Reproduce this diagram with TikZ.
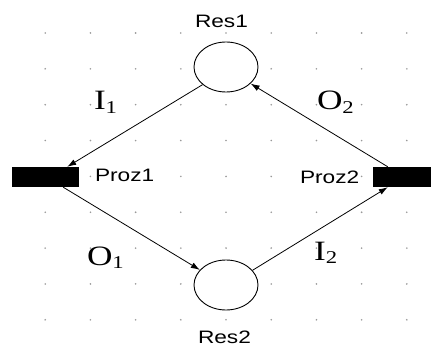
\documentclass[tikz,border=0pt]{standalone}
\usepackage{fontspec}
\setmainfont{Liberation Serif}
\newfontfamily\sansf{Liberation Sans}
\usetikzlibrary{shapes.geometric,arrows.meta}
\newcommand\sanslbl[1]{\scalebox{1.26}[1]{\sansf\fontsize{18}{20}\selectfont #1}}
\newcommand\arclbl[2]{\scalebox{1.26}[1]{\fontsize{28}{30}\selectfont #1\raisebox{-3.5pt}{\fontsize{18}{20}\selectfont #2}}}
\tikzset{
  place/.style={shape=ellipse, draw, fill=white, line width=0.9pt, minimum width=64pt, minimum height=50pt, inner sep=0pt},
  trans/.style={shape=rectangle, fill=black, inner sep=0pt, minimum height=20pt},
  txt/.style={anchor=base west, inner sep=0pt, outer sep=0pt},
  arc/.style={line width=0.8pt, -{Latex[length=9pt,width=6pt]}},
  dot/.style={fill=black!40}
}
\begin{document}
\begin{tikzpicture}[x=1pt,y=-1pt]
\useasboundingbox (0,0) rectangle (431,350);
\fill[white] (0,0) rectangle (431,350);
\foreach \i in {1,...,9}{
  \foreach \j in {0,...,8}{
    \fill[dot] ({45.2*\i},{33+35.85*\j}) circle (0.9);
  }
}
\node[place] (res1) at (226,67) {};
\node[place] (res2) at (226,285) {};
\node[trans, minimum width=67pt] (p1) at (45.5,177) {};
\node[trans, minimum width=62pt] (p2) at (404,177) {};
\node[txt] (lres1) at (195,28) {\sanslbl{Res1}};
\node[txt] (lres2) at (198,343) {\sanslbl{Res2}};
\node[txt] (lp1) at (95,182) {\sanslbl{Proz1}};
\node[txt] (lp2) at (300,183) {\sanslbl{Proz2}};
\node[txt] (li1) at (94,110) {\arclbl{I}{1}};
\node[txt] (lo2) at (317,110) {\arclbl{O}{2}};
\node[txt] (lo1) at (87,265) {\arclbl{O}{1}};
\node[txt] (li2) at (314,260) {\arclbl{I}{2}};
\draw[arc] (res1.217) -- ([xshift=-12pt]p1.north east);
\draw[arc] ([xshift=-16pt]p1.south east) -- (res2.150);
\draw[arc] (res2.29) -- ([xshift=15pt]p2.south west);
\draw[arc] ([xshift=15pt]p2.north west) -- (res1.326);
\end{tikzpicture}
\end{document}
